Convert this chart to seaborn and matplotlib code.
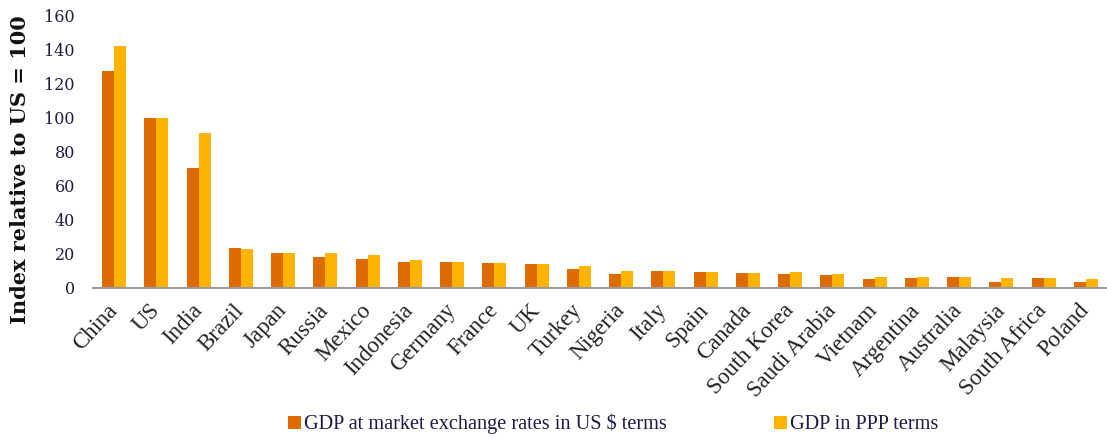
import numpy as np
import pandas as pd
import matplotlib.pyplot as plt
import seaborn as sns

# ── Data (index US = 100) ────────────────────────────────────────────────────
countries = ["China", "US", "India", "Brazil", "Japan", "Russia", "Mexico",
             "Indonesia", "Germany", "France", "UK", "Turkey", "Nigeria",
             "Italy", "Spain", "Canada", "South Korea", "Saudi Arabia",
             "Vietnam", "Argentina", "Australia", "Malaysia", "South Africa",
             "Poland"]
gdp_mer = [127.6, 100, 70.6, 23.4, 20.6, 18.2, 16.9, 15.3, 14.9, 14.5, 13.8,
           11.2, 8.2, 9.6, 9.1, 8.6, 8.2, 7.5, 4.9, 5.7, 6.3, 3.5, 5.7, 3.1]
gdp_ppp = [142.4, 100, 91.2, 22.8, 20.6, 20.6, 19.1, 16.1, 14.9, 14.5, 13.8,
           12.6, 10.0, 9.6, 9.1, 8.6, 9.1, 8.1, 6.5, 6.5, 6.3, 5.9, 5.7, 4.9]
series_names = ["GDP at market exchange rates in US $ terms", "GDP in PPP terms"]
y_ticks = list(range(0, 161, 20))

# ── Style ────────────────────────────────────────────────────────────────────
sns.set_style("white")
ORANGE = "#DD6B00"
YELLOW = "#FFB400"
NAVY   = "#1B1B45"
GREY   = "#9A9A9A"

df = pd.DataFrame({"country": countries,
                   series_names[0]: gdp_mer,
                   series_names[1]: gdp_ppp})
long = df.melt(id_vars="country", var_name="series", value_name="index")

fig = plt.figure(figsize=(11.07, 4.4), dpi=100)
ax = fig.add_axes([93 / 1107, 1 - 287.7 / 440, 1 - 93 / 1107, 272 / 440])

sns.barplot(data=long, x="country", y="index", hue="series",
            palette=[ORANGE, YELLOW], width=0.57, saturation=1,
            linewidth=0, ax=ax)

ax.set_xlim(-0.5, len(countries) - 0.5)
ax.set_ylim(0, 160)
ax.set_yticks(y_ticks)
ax.set_yticklabels([str(t) for t in y_ticks], family="DejaVu Serif",
                   fontsize=11.5, color=NAVY)
ax.tick_params(axis="y", length=0, pad=13)

# ticks between groups, labels under the groups
ax.set_xticks(np.arange(-0.5, len(countries), 1), minor=True)
ax.tick_params(axis="x", which="major", length=0, pad=14)
ax.tick_params(axis="x", which="minor", length=6, width=1.3, color=GREY,
               direction="out")
ax.set_xticklabels(countries, family="Liberation Serif", fontsize=16.5,
                   color="#222222")
for lab in ax.get_xticklabels():
    lab.set_rotation(47)
    lab.set_ha("right")
    lab.set_va("center")
    lab.set_rotation_mode("anchor")

ax.set_xlabel("")
ax.set_ylabel("Index relative to US = 100", family="DejaVu Serif",
              fontsize=15, fontweight="bold", color="#111111")
ax.yaxis.set_label_coords(-0.062, 0.433)

for side in ["left", "top", "right"]:
    ax.spines[side].set_visible(False)
ax.spines["bottom"].set_color(GREY)
ax.spines["bottom"].set_linewidth(1.5)
ax.grid(False)

handles, labels = ax.get_legend_handles_labels()
ax.get_legend().remove()
fig.legend(handles, labels, loc="center", bbox_to_anchor=(0.554, 1 - 424 / 440),
           ncol=2, frameon=False, handlelength=0.62, handleheight=0.62,
           handletextpad=0.15, columnspacing=5.3,
           prop={"family": "Liberation Serif", "size": 14.6},
           labelcolor=NAVY)

fig.savefig("out.png", dpi=100)
